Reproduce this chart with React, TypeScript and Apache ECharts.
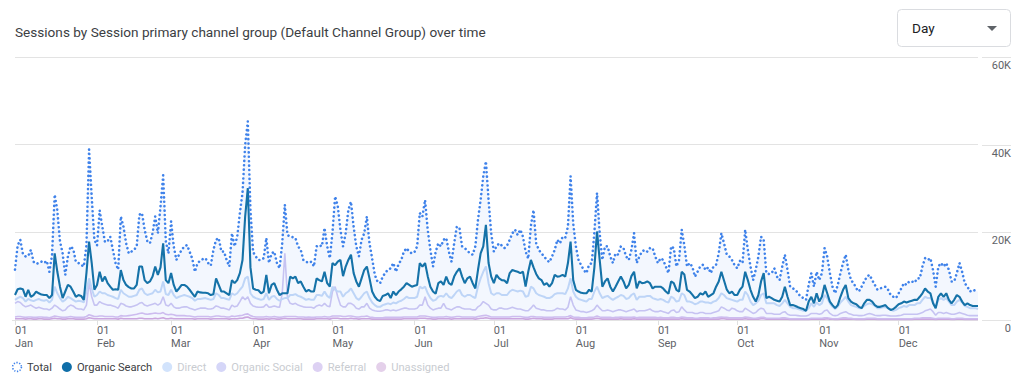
import React, { useEffect, useRef } from "react";
import * as echarts from "echarts";

// ---------- data (sessions, in thousands) ----------
const months = ["Jan", "Feb", "Mar", "Apr", "May", "Jun", "Jul", "Aug", "Sep", "Oct", "Nov", "Dec"];
const monthDays = [31, 28, 31, 30, 31, 30, 31, 31, 30, 31, 30, 31];
const yTicks = [0, 20, 40, 60];
const legendNames = ["Total", "Organic Search", "Direct", "Organic Social", "Referral", "Unassigned"];

const total = [
  // Jan
  11.5, 17.0, 18.3, 15.0, 14.5, 14.6, 16.0, 13.3, 12.8, 13.0,
  13.3, 13.0, 13.5, 11.0, 14.8, 28.6, 25.0, 18.0, 15.2, 10.3,
  14.5, 16.8, 16.2, 13.3, 13.0, 12.6, 12.2, 17.0, 38.9, 28.0,
  18.3,
  // Feb
  17.0, 25.0, 21.3, 17.8, 18.0, 19.0, 16.0, 13.0, 11.5, 23.6,
  21.3, 17.5, 15.2, 15.6, 16.0, 16.8, 24.0, 24.4, 20.6, 18.0,
  17.5, 19.8, 23.6, 19.8, 25.9, 33.0, 18.0, 15.2,
  // Mar
  22.5, 16.8, 13.7, 14.9, 16.0, 16.8, 17.1, 15.6, 14.0, 11.0,
  13.0, 13.5, 13.9, 14.1, 13.0, 12.4, 16.0, 18.3, 18.7, 15.6,
  15.6, 13.7, 12.2, 19.8, 16.8, 19.0, 24.4, 29.0, 40.0, 45.3,
  25.0,
  // Apr
  15.5, 14.5, 13.7, 13.7, 14.1, 18.7, 13.0, 15.2, 15.6, 13.0,
  11.8, 17.5, 26.3, 19.4, 19.0, 18.9, 18.7, 16.8, 16.0, 13.7,
  13.3, 13.0, 13.3, 12.2, 16.8, 17.1, 16.8, 21.0, 16.8, 14.1,
  // May
  20.0, 28.2, 26.0, 20.6, 16.8, 19.8, 25.1, 27.0, 21.3, 16.8,
  14.5, 18.3, 19.8, 23.6, 17.5, 14.0, 10.3, 8.8, 8.4, 9.9,
  10.8, 11.5, 11.8, 13.0, 11.0, 12.8, 13.7, 15.6, 16.4, 15.6,
  15.2,
  // Jun
  15.5, 16.8, 24.4, 23.6, 27.4, 20.6, 16.0, 12.2, 15.5, 17.5,
  16.8, 18.3, 18.7, 15.6, 13.3, 17.5, 21.3, 21.0, 16.8, 16.4,
  15.8, 15.2, 14.9, 16.8, 22.9, 27.4, 32.8, 36.2, 27.4, 19.8,
  // Jul
  15.6, 16.8, 17.5, 17.0, 16.4, 17.0, 18.3, 19.8, 20.6, 19.4,
  20.6, 19.0, 15.6, 14.0, 21.5, 25.1, 17.5, 16.0, 15.2, 14.5,
  13.7, 13.2, 14.5, 16.0, 18.3, 17.5, 19.0, 18.8, 21.3, 32.8,
  22.0,
  // Aug
  16.8, 13.7, 12.5, 11.4, 10.7, 12.6, 13.0, 20.0, 29.0, 19.8,
  13.7, 16.8, 16.8, 14.5, 13.0, 15.2, 14.9, 16.8, 16.4, 14.5,
  13.7, 16.0, 19.8, 13.0, 14.5, 15.6, 16.0, 15.6, 16.4, 16.4,
  14.5,
  // Sep
  13.0, 14.1, 13.7, 12.2, 10.7, 16.8, 16.4, 12.2, 13.7, 20.6,
  17.0, 12.2, 13.0, 12.2, 9.9, 11.0, 12.2, 12.6, 11.4, 12.0,
  10.7, 12.2, 12.6, 15.2, 19.8, 17.5, 15.0, 14.5, 13.7, 12.5,
  // Oct
  11.8, 13.5, 13.0, 20.6, 16.0, 12.2, 9.1, 11.5, 14.5, 19.0,
  18.3, 10.7, 10.5, 10.7, 11.8, 9.9, 9.1, 12.2, 14.9, 11.4,
  7.6, 7.2, 6.9, 6.1, 5.3, 5.0, 4.6, 8.0, 10.7, 7.6,
  11.0,
  // Nov
  9.1, 10.7, 16.4, 14.5, 10.7, 7.6, 6.1, 8.0, 10.7, 13.0,
  14.9, 11.4, 9.1, 8.4, 7.2, 6.5, 7.6, 8.8, 9.9, 10.3,
  9.1, 8.0, 6.9, 7.2, 7.4, 7.6, 6.9, 5.7, 5.3, 5.0,
  // Dec
  6.1, 7.2, 8.4, 8.0, 8.8, 8.8, 8.5, 9.5, 9.5, 12.2,
  14.1, 13.7, 14.1, 11.4, 7.6, 12.2, 13.0, 12.2, 13.0, 11.4,
  8.8, 8.8, 10.7, 13.0, 11.0, 8.4, 7.6, 6.5, 6.9, 6.7,
  6.5,
];

const organicSearch = [
  // Jan
  5.7, 7.0, 7.2, 7.0, 5.3, 6.9, 5.3, 5.7, 6.5, 6.1,
  5.8, 5.7, 5.7, 5.0, 5.7, 15.2, 11.0, 7.6, 5.0, 6.5,
  8.0, 7.6, 6.5, 5.3, 5.7, 5.5, 4.6, 10.7, 17.9, 13.0,
  6.9,
  // Feb
  8.0, 11.0, 8.8, 9.9, 8.4, 7.6, 6.9, 7.0, 6.9, 11.4,
  9.1, 8.0, 7.5, 7.2, 7.2, 8.0, 12.2, 12.2, 9.1, 8.4,
  8.8, 9.9, 12.2, 10.3, 12.0, 17.5, 9.1, 8.4,
  // Mar
  10.7, 8.0, 6.5, 7.2, 8.0, 8.0, 7.6, 6.9, 6.1, 5.3,
  6.5, 6.3, 6.2, 6.2, 6.1, 5.7, 5.9, 9.5, 8.0, 6.5,
  6.5, 6.1, 5.7, 9.1, 8.4, 9.1, 10.7, 13.7, 23.6, 30.1,
  12.0,
  // Apr
  7.2, 6.9, 6.8, 6.1, 6.5, 10.3, 6.1, 8.0, 8.4, 6.9,
  5.7, 6.1, 6.1, 6.1, 9.9, 9.5, 9.9, 8.4, 8.8, 7.6,
  6.5, 6.9, 6.5, 6.5, 9.5, 9.1, 8.8, 11.0, 8.4, 7.6,
  // May
  13.0, 12.5, 13.3, 13.7, 10.0, 12.2, 13.7, 14.9, 10.7, 8.8,
  7.6, 9.5, 11.4, 12.2, 9.5, 6.5, 5.3, 4.6, 4.3, 5.5,
  5.7, 6.1, 5.0, 6.5, 5.7, 6.5, 7.0, 7.6, 8.4, 8.0,
  7.6,
  // Jun
  7.8, 8.0, 13.0, 12.2, 13.0, 10.0, 7.6, 6.5, 6.0, 8.4,
  8.8, 8.0, 9.9, 8.4, 8.0, 9.9, 11.0, 11.8, 9.9, 8.4,
  9.5, 9.9, 8.4, 7.2, 11.4, 15.2, 16.8, 21.7, 13.0, 9.9,
  // Jul
  8.4, 10.3, 9.5, 9.1, 9.0, 8.4, 10.7, 11.4, 11.2, 11.0,
  10.7, 11.0, 7.6, 11.0, 13.7, 12.0, 10.5, 9.5, 9.1, 8.0,
  8.4, 7.6, 8.4, 10.3, 9.9, 10.0, 10.3, 9.9, 13.0, 17.9,
  9.1,
  // Aug
  6.9, 6.5, 6.2, 6.1, 6.1, 6.9, 6.5, 12.0, 20.2, 13.7,
  7.6, 8.8, 9.5, 7.6, 6.5, 7.6, 8.8, 9.9, 8.8, 7.2,
  8.0, 10.0, 11.0, 7.2, 8.8, 8.4, 8.5, 8.8, 8.4, 7.2,
  7.6,
  // Sep
  7.6, 7.6, 7.2, 6.5, 6.0, 8.8, 8.4, 6.9, 6.5, 11.0,
  10.4, 6.9, 6.5, 5.8, 5.0, 5.3, 6.1, 5.8, 6.5, 5.3,
  5.7, 6.1, 7.6, 8.8, 11.0, 9.0, 7.0, 6.1, 6.5, 5.7,
  // Oct
  5.7, 6.9, 7.6, 11.0, 9.1, 6.9, 5.3, 4.2, 5.7, 8.8,
  10.7, 5.0, 5.3, 5.0, 4.6, 4.4, 4.2, 5.3, 7.6, 5.3,
  3.4, 3.4, 3.2, 2.9, 2.7, 2.5, 2.1, 4.2, 5.3, 3.8,
  6.1,
  // Nov
  4.2, 5.3, 8.0, 6.1, 4.2, 3.4, 2.7, 3.4, 5.3, 6.9,
  8.0, 5.0, 4.2, 3.8, 3.6, 3.0, 2.7, 3.8, 4.6, 4.6,
  4.2, 3.4, 3.0, 3.0, 3.2, 3.4, 2.7, 2.3, 2.5, 3.0,
  // Dec
  3.6, 3.8, 4.2, 4.0, 4.2, 4.4, 4.6, 4.6, 5.3, 6.1,
  7.2, 6.5, 6.1, 3.8, 2.7, 5.3, 6.1, 5.3, 6.1, 4.6,
  3.8, 4.6, 5.7, 5.3, 4.2, 3.4, 3.8, 3.4, 3.2, 3.2,
  3.2,
];

const direct = [
  // Jan
  4.6, 5.0, 5.3, 5.0, 4.2, 4.8, 4.5, 4.3, 4.6, 4.8,
  4.5, 4.4, 4.6, 4.0, 4.6, 7.6, 6.1, 5.0, 4.2, 4.6,
  5.3, 5.0, 4.6, 4.2, 4.4, 4.3, 4.0, 6.5, 9.5, 7.2,
  5.3,
  // Feb
  5.7, 6.5, 6.1, 6.1, 5.7, 5.5, 5.3, 5.0, 4.8, 6.9,
  6.1, 5.7, 5.3, 5.3, 5.5, 5.7, 6.9, 7.2, 6.1, 5.7,
  5.9, 6.1, 6.9, 6.3, 6.5, 8.8, 5.9, 5.7,
  // Mar
  6.9, 5.7, 5.0, 5.3, 5.5, 5.7, 5.5, 5.3, 5.0, 4.4,
  4.8, 4.8, 4.9, 5.0, 4.8, 4.6, 4.8, 6.1, 5.7, 5.0,
  5.0, 4.8, 4.6, 6.1, 5.7, 6.1, 6.9, 7.6, 9.5, 9.9,
  6.1,
  // Apr
  5.3, 5.0, 4.8, 4.6, 4.8, 6.1, 4.6, 5.3, 5.5, 4.8,
  4.4, 4.8, 5.0, 5.0, 5.7, 5.7, 5.9, 5.5, 5.3, 5.0,
  4.6, 4.8, 4.6, 4.6, 5.7, 5.7, 5.5, 6.5, 5.5, 5.0,
  // May
  7.6, 6.9, 6.5, 6.5, 5.3, 6.1, 6.5, 7.2, 6.1, 5.0,
  4.6, 5.3, 6.1, 6.5, 5.0, 4.0, 3.4, 3.0, 3.0, 3.4,
  3.6, 3.8, 3.6, 4.0, 3.8, 4.2, 4.4, 4.8, 5.3, 5.0,
  5.0,
  // Jun
  5.0, 5.3, 7.6, 7.2, 7.6, 6.1, 5.0, 4.4, 4.6, 5.3,
  5.5, 5.3, 6.1, 5.3, 5.0, 5.7, 6.5, 6.9, 5.7, 5.3,
  5.7, 5.7, 5.3, 5.0, 7.6, 9.5, 11.0, 12.2, 8.4, 6.1,
  // Jul
  5.7, 6.1, 6.1, 5.7, 5.7, 5.7, 6.5, 6.9, 6.7, 6.5,
  6.7, 6.5, 5.3, 5.5, 7.6, 7.2, 6.1, 5.7, 5.5, 5.3,
  5.0, 5.0, 5.3, 5.9, 6.1, 6.1, 6.1, 5.9, 7.2, 9.5,
  6.5,
  // Aug
  5.3, 4.8, 4.6, 4.4, 4.2, 4.8, 4.8, 6.5, 7.6, 6.1,
  5.0, 5.3, 5.5, 5.0, 4.6, 5.0, 5.3, 5.7, 5.5, 4.8,
  5.0, 5.7, 6.1, 4.6, 5.3, 5.3, 5.3, 5.5, 5.5, 5.0,
  4.8,
  // Sep
  4.6, 4.8, 4.6, 4.2, 4.0, 5.3, 5.0, 4.2, 4.4, 6.1,
  5.7, 4.2, 4.2, 4.0, 3.6, 3.8, 4.2, 4.2, 4.0, 4.0,
  3.8, 4.2, 4.4, 5.0, 6.1, 5.7, 5.0, 4.8, 4.6, 4.4,
  // Oct
  4.2, 4.6, 4.6, 6.5, 5.7, 4.2, 3.4, 3.8, 4.4, 5.7,
  6.1, 3.8, 3.8, 3.8, 3.8, 3.4, 3.2, 3.8, 4.6, 3.8,
  3.0, 2.7, 2.7, 2.5, 2.3, 2.1, 2.1, 2.7, 3.8, 3.0,
  4.0,
  // Nov
  3.4, 3.8, 5.7, 5.0, 3.8, 3.0, 2.5, 3.0, 4.0, 4.6,
  5.3, 4.2, 3.4, 3.2, 3.0, 2.7, 2.7, 3.2, 3.6, 3.8,
  3.6, 3.2, 2.7, 2.7, 2.9, 2.9, 2.7, 2.3, 2.1, 2.3,
  // Dec
  2.7, 2.9, 3.2, 3.0, 3.4, 3.4, 3.4, 3.8, 3.8, 4.6,
  5.3, 5.0, 5.0, 4.2, 2.9, 4.6, 5.0, 4.6, 5.0, 4.2,
  3.4, 3.4, 4.2, 4.6, 4.0, 3.2, 3.0, 2.7, 2.7, 2.7,
  2.5,
];

const organicSocial = [
  // Jan
  3.8, 4.2, 4.0, 3.4, 3.0, 3.2, 3.4, 3.0, 2.7, 2.9,
  2.7, 2.5, 2.5, 2.3, 2.7, 3.4, 3.0, 2.5, 2.1, 2.3,
  3.0, 3.4, 3.2, 2.7, 2.5, 2.5, 2.3, 3.4, 8.4, 5.3,
  3.4,
  // Feb
  3.4, 4.2, 3.8, 3.6, 3.4, 3.4, 3.2, 3.0, 2.7, 3.8,
  3.6, 3.2, 3.0, 3.0, 3.2, 3.4, 3.8, 4.0, 3.4, 3.2,
  3.4, 3.6, 3.8, 3.4, 3.8, 5.3, 3.4, 3.2,
  // Mar
  3.8, 3.0, 2.7, 2.7, 2.9, 3.0, 3.0, 2.7, 2.5, 2.3,
  2.5, 2.7, 2.7, 2.7, 2.5, 2.5, 2.7, 3.2, 3.0, 2.7,
  2.7, 2.5, 2.3, 3.4, 3.0, 3.2, 4.2, 5.3, 4.6, 5.3,
  3.8,
  // Apr
  3.2, 3.0, 2.9, 2.9, 3.0, 3.6, 2.9, 3.0, 3.2, 3.0,
  2.9, 6.0, 15.2, 5.0, 3.8, 3.6, 3.8, 3.4, 3.2, 3.0,
  2.9, 2.9, 2.9, 2.7, 3.2, 3.4, 3.2, 3.8, 3.2, 3.0,
  // May
  6.5, 7.6, 5.3, 3.4, 3.0, 3.0, 3.8, 3.8, 3.4, 2.7,
  2.5, 3.0, 3.0, 3.8, 2.7, 2.3, 2.1, 2.0, 2.0, 2.1,
  2.3, 2.3, 2.1, 2.3, 2.1, 2.3, 2.5, 2.7, 2.7, 2.5,
  2.5,
  // Jun
  2.5, 2.7, 3.4, 3.4, 5.3, 3.4, 2.7, 2.3, 2.5, 2.7,
  2.7, 3.8, 2.7, 2.5, 2.3, 2.7, 3.0, 3.0, 2.7, 2.5,
  2.5, 2.5, 2.3, 2.3, 3.0, 3.4, 4.2, 3.8, 3.4, 2.5,
  // Jul
  2.3, 2.3, 2.7, 2.7, 2.5, 2.5, 2.7, 2.9, 2.7, 2.5,
  2.5, 2.3, 2.1, 2.1, 2.7, 3.4, 2.7, 2.5, 2.3, 2.3,
  2.1, 2.1, 2.1, 2.3, 2.7, 2.5, 2.5, 2.3, 2.9, 5.3,
  3.4,
  // Aug
  2.3, 2.1, 1.9, 1.9, 1.7, 1.9, 2.1, 2.5, 3.4, 2.7,
  2.1, 2.1, 2.3, 2.1, 1.9, 2.1, 2.3, 2.3, 2.1, 1.9,
  2.1, 2.3, 2.5, 1.9, 2.1, 2.1, 2.1, 2.3, 2.5, 2.1,
  1.9,
  // Sep
  1.9, 2.1, 1.9, 1.7, 1.5, 2.1, 2.3, 1.7, 1.9, 3.0,
  2.3, 1.7, 1.7, 1.7, 1.5, 1.5, 1.7, 1.7, 1.5, 1.5,
  1.5, 1.7, 1.9, 2.1, 3.0, 2.7, 2.3, 2.1, 2.7, 2.5,
  // Oct
  2.1, 1.9, 1.9, 2.7, 2.3, 1.9, 1.5, 1.7, 2.3, 2.7,
  2.5, 1.5, 1.5, 1.5, 1.3, 1.3, 1.3, 1.7, 1.9, 1.3,
  1.1, 1.1, 1.1, 1.0, 0.9, 0.9, 0.9, 1.1, 1.5, 1.5,
  1.5,
  // Nov
  1.3, 1.5, 2.1, 2.3, 1.5, 1.1, 1.0, 1.1, 1.5, 1.7,
  1.9, 1.5, 1.3, 1.1, 1.1, 1.0, 1.0, 1.1, 1.3, 1.5,
  1.3, 1.1, 1.0, 1.0, 1.1, 1.1, 1.0, 0.9, 0.9, 0.9,
  // Dec
  1.0, 1.1, 1.3, 1.3, 1.3, 1.3, 1.3, 1.3, 1.5, 1.7,
  2.1, 2.3, 2.5, 1.9, 1.1, 1.7, 1.7, 1.5, 1.7, 1.5,
  1.3, 1.3, 1.5, 1.7, 1.5, 1.3, 1.1, 1.0, 1.0, 1.0,
  1.0,
];

const referral = [
  // Jan
  0.7, 0.8, 0.8, 0.7, 0.6, 0.7, 0.7, 0.6, 0.6, 0.7,
  0.7, 0.6, 0.6, 0.5, 0.7, 0.9, 0.8, 0.7, 0.6, 0.6,
  0.7, 0.8, 0.7, 0.6, 0.6, 0.6, 0.6, 0.8, 1.2, 1.0,
  0.8,
  // Feb
  0.8, 0.9, 0.9, 0.8, 0.8, 0.8, 0.8, 0.7, 0.7, 1.0,
  0.9, 0.9, 1.0, 1.1, 1.2, 1.3, 1.5, 1.6, 1.4, 1.3,
  1.4, 1.5, 1.6, 1.5, 1.5, 1.7, 1.3, 1.2,
  // Mar
  1.3, 1.2, 1.0, 1.0, 1.0, 1.0, 0.9, 0.9, 0.8, 0.7,
  0.8, 0.8, 0.8, 0.8, 0.8, 0.7, 0.8, 0.9, 0.9, 0.8,
  0.8, 0.7, 0.7, 0.9, 0.8, 0.9, 1.0, 1.1, 1.3, 1.4,
  1.0,
  // Apr
  0.8, 0.7, 0.7, 0.7, 0.7, 0.8, 0.7, 0.7, 0.8, 0.7,
  0.6, 0.7, 0.8, 0.8, 0.8, 0.8, 0.8, 0.7, 0.7, 0.7,
  0.6, 0.7, 0.6, 0.6, 0.7, 0.7, 0.7, 0.8, 0.7, 0.7,
  // May
  0.9, 0.9, 0.9, 0.9, 0.8, 0.8, 0.9, 0.9, 0.8, 0.7,
  0.7, 0.8, 0.8, 0.9, 0.7, 0.6, 0.5, 0.5, 0.5, 0.5,
  0.6, 0.6, 0.6, 0.6, 0.6, 0.6, 0.6, 0.7, 0.7, 0.7,
  0.7,
  // Jun
  0.7, 0.7, 0.9, 0.9, 0.9, 0.8, 0.7, 0.6, 0.6, 0.7,
  0.7, 0.7, 0.8, 0.7, 0.6, 0.7, 0.8, 0.8, 0.7, 0.7,
  0.7, 0.7, 0.7, 0.6, 0.8, 0.9, 1.0, 1.1, 0.9, 0.7,
  // Jul
  0.7, 0.7, 0.7, 0.7, 0.7, 0.7, 0.7, 0.8, 0.8, 0.8,
  0.8, 0.7, 0.6, 0.6, 0.8, 0.8, 0.7, 0.7, 0.7, 0.6,
  0.6, 0.6, 0.6, 0.7, 0.7, 0.7, 0.7, 0.7, 0.8, 1.0,
  0.7,
  // Aug
  0.6, 0.6, 0.5, 0.5, 0.5, 0.6, 0.6, 0.7, 0.9, 0.7,
  0.6, 0.6, 0.6, 0.6, 0.5, 0.6, 0.6, 0.7, 0.6, 0.6,
  0.6, 0.6, 0.7, 0.5, 0.6, 0.6, 0.6, 0.6, 0.6, 0.6,
  0.6,
  // Sep
  0.5, 0.6, 0.5, 0.5, 0.5, 0.6, 0.6, 0.5, 0.5, 0.7,
  0.6, 0.5, 0.5, 0.5, 0.4, 0.4, 0.5, 0.5, 0.5, 0.5,
  0.4, 0.5, 0.5, 0.6, 0.7, 0.6, 0.6, 0.5, 0.5, 0.5,
  // Oct
  0.5, 0.5, 0.5, 0.7, 0.6, 0.5, 0.4, 0.4, 0.5, 0.6,
  0.6, 0.4, 0.4, 0.4, 0.4, 0.4, 0.4, 0.5, 0.5, 0.4,
  0.3, 0.3, 0.3, 0.3, 0.3, 0.3, 0.3, 0.3, 0.4, 0.4,
  0.4,
  // Nov
  0.4, 0.4, 0.5, 0.5, 0.4, 0.3, 0.3, 0.3, 0.4, 0.5,
  0.5, 0.4, 0.4, 0.3, 0.3, 0.3, 0.3, 0.3, 0.4, 0.4,
  0.4, 0.4, 0.3, 0.3, 0.3, 0.3, 0.3, 0.3, 0.3, 0.3,
  // Dec
  0.3, 0.3, 0.3, 0.3, 0.3, 0.3, 0.4, 0.4, 0.4, 0.5,
  0.5, 0.5, 0.5, 0.4, 0.3, 0.4, 0.4, 0.4, 0.4, 0.4,
  0.3, 0.3, 0.4, 0.4, 0.4, 0.3, 0.3, 0.3, 0.3, 0.3,
  0.3,
];

const unassigned = [
  // Jan
  0.3, 0.3, 0.3, 0.3, 0.2, 0.3, 0.3, 0.2, 0.2, 0.3,
  0.3, 0.2, 0.2, 0.2, 0.3, 0.4, 0.3, 0.3, 0.2, 0.2,
  0.3, 0.3, 0.3, 0.2, 0.2, 0.2, 0.2, 0.3, 0.5, 0.4,
  0.3,
  // Feb
  0.3, 0.3, 0.3, 0.3, 0.3, 0.3, 0.3, 0.3, 0.2, 0.4,
  0.3, 0.3, 0.3, 0.3, 0.3, 0.3, 0.4, 0.4, 0.3, 0.3,
  0.3, 0.3, 0.4, 0.3, 0.4, 0.5, 0.3, 0.3,
  // Mar
  0.4, 0.3, 0.3, 0.3, 0.3, 0.3, 0.3, 0.3, 0.3, 0.2,
  0.3, 0.3, 0.3, 0.3, 0.3, 0.2, 0.3, 0.3, 0.3, 0.3,
  0.3, 0.3, 0.2, 0.3, 0.3, 0.3, 0.4, 0.4, 0.6, 0.7,
  0.4,
  // Apr
  0.3, 0.3, 0.2, 0.2, 0.2, 0.3, 0.2, 0.3, 0.3, 0.2,
  0.2, 0.3, 0.4, 0.3, 0.3, 0.3, 0.3, 0.3, 0.3, 0.2,
  0.2, 0.2, 0.2, 0.2, 0.3, 0.3, 0.3, 0.3, 0.3, 0.2,
  // May
  0.4, 0.4, 0.4, 0.3, 0.3, 0.3, 0.3, 0.4, 0.3, 0.3,
  0.2, 0.3, 0.3, 0.3, 0.3, 0.2, 0.2, 0.2, 0.2, 0.2,
  0.2, 0.2, 0.2, 0.2, 0.2, 0.2, 0.2, 0.3, 0.3, 0.3,
  0.3,
  // Jun
  0.3, 0.3, 0.4, 0.4, 0.4, 0.3, 0.3, 0.2, 0.2, 0.3,
  0.3, 0.3, 0.3, 0.3, 0.2, 0.3, 0.3, 0.3, 0.3, 0.3,
  0.3, 0.3, 0.3, 0.2, 0.3, 0.4, 0.4, 0.5, 0.4, 0.3,
  // Jul
  0.3, 0.3, 0.3, 0.3, 0.3, 0.3, 0.3, 0.3, 0.3, 0.3,
  0.3, 0.3, 0.2, 0.2, 0.3, 0.4, 0.3, 0.3, 0.3, 0.2,
  0.2, 0.2, 0.2, 0.3, 0.3, 0.3, 0.3, 0.3, 0.3, 0.5,
  0.3,
  // Aug
  0.2, 0.2, 0.2, 0.2, 0.2, 0.2, 0.2, 0.3, 0.4, 0.3,
  0.2, 0.2, 0.2, 0.2, 0.2, 0.2, 0.2, 0.3, 0.2, 0.2,
  0.2, 0.2, 0.3, 0.2, 0.2, 0.2, 0.2, 0.2, 0.2, 0.2,
  0.2,
  // Sep
  0.2, 0.2, 0.2, 0.2, 0.2, 0.2, 0.2, 0.2, 0.2, 0.3,
  0.2, 0.2, 0.2, 0.2, 0.2, 0.2, 0.2, 0.2, 0.2, 0.2,
  0.2, 0.2, 0.2, 0.2, 0.3, 0.3, 0.2, 0.2, 0.2, 0.2,
  // Oct
  0.2, 0.2, 0.2, 0.3, 0.2, 0.2, 0.2, 0.2, 0.2, 0.3,
  0.3, 0.2, 0.2, 0.2, 0.2, 0.2, 0.2, 0.2, 0.2, 0.2,
  0.1, 0.1, 0.1, 0.1, 0.1, 0.1, 0.1, 0.1, 0.2, 0.2,
  0.2,
  // Nov
  0.2, 0.2, 0.2, 0.3, 0.2, 0.2, 0.1, 0.1, 0.2, 0.2,
  0.2, 0.2, 0.2, 0.2, 0.1, 0.1, 0.1, 0.1, 0.2, 0.2,
  0.2, 0.2, 0.1, 0.1, 0.1, 0.1, 0.1, 0.1, 0.1, 0.1,
  // Dec
  0.1, 0.1, 0.1, 0.1, 0.1, 0.1, 0.2, 0.2, 0.2, 0.2,
  0.2, 0.2, 0.2, 0.2, 0.1, 0.2, 0.2, 0.2, 0.2, 0.2,
  0.1, 0.1, 0.2, 0.2, 0.2, 0.1, 0.1, 0.1, 0.1, 0.1,
  0.1,
];

// day categories "01 Jan" ... "31 Dec"
const categories: string[] = months.flatMap((m, i) =>
  Array.from({ length: monthDays[i] }, (_, k) => `${String(k + 1).padStart(2, "0")} ${m}`)
);

const FONT = "Roboto, 'Noto Sans', sans-serif";
const C_TOTAL = "#3f82ea";
const C_ORGANIC = "#1572a8";
const C_DIRECT = "#bed5f7";
const C_SOCIAL = "#c6c3f2";
const C_REFERRAL = "#cdbcef";
const C_UNASSIGNED = "#cba6de";
const FADED_TEXT = "#c9ccd1";

// legend swatch colours / text colours, in legendNames order
const legendSwatch = ["#ffffff", "#0f6ea8", "#d2e3fc", "#d5d6f8", "#ddd1f3", "#e4d0ea"];
const legendText = ["#3c4043", "#3c4043", FADED_TEXT, FADED_TEXT, FADED_TEXT, FADED_TEXT];

export default function App() {
  const ref = useRef<HTMLDivElement>(null);

  useEffect(() => {
    const lens = [total, organicSearch, direct, organicSocial, referral, unassigned].map((a) => a.length);
    if (lens.some((l) => l !== categories.length)) {
      throw new Error("length mismatch: " + lens.join(",") + " vs " + categories.length);
    }
    const chart = echarts.init(ref.current!, undefined, { renderer: "svg" });

    const faded = (name: string, data: number[], color: string, width: number) => ({
      name,
      type: "line",
      data,
      showSymbol: false,
      symbol: "none",
      z: 2,
      lineStyle: { color, width },
      itemStyle: { color },
    });

    chart.setOption({
      animation: false,
      textStyle: { fontFamily: FONT },
      title: {
        text: "Sessions by Session primary channel group (Default Channel Group) over time",
        left: 10,
        top: 20,
        textStyle: { fontSize: 13.6, fontWeight: "normal", color: "#3c4043", fontFamily: FONT },
      },
      grid: { left: 15, right: 46, top: 57, bottom: 64, containLabel: false },
      xAxis: {
        type: "category",
        data: categories,
        boundaryGap: false,
        axisLine: { show: false },
        axisTick: {
          show: true,
          length: 5,
          interval: (i: number, v: string) => v.startsWith("01 "),
          lineStyle: { color: "#e0e0e0" },
        },
        axisLabel: {
          interval: (i: number, v: string) => v.startsWith("01 "),
          formatter: (v: string) => v.replace(" ", "\n"),
          align: "left",
          fontSize: 11,
          lineHeight: 13,
          margin: 4,
          color: "#5f6368",
          fontFamily: FONT,
        },
        splitLine: { show: false },
      },
      yAxis: {
        type: "value",
        position: "right",
        min: 0,
        max: 60,
        interval: 20,
        axisLine: { show: false },
        axisTick: { show: false },
        splitLine: { lineStyle: { color: "#e3e3e3", width: 1 } },
        axisLabel: {
          formatter: (v: number) => (v === 0 ? "0" : `${v}K`),
          align: "right",
          verticalAlign: "top",
          margin: 33,
          padding: [3, 0, 0, 0],
          fontSize: 11,
          color: "#5f6368",
          fontFamily: FONT,
        },
      },
      series: [
        {
          name: "_totalArea",
          type: "line",
          data: total,
          showSymbol: false,
          symbol: "none",
          z: 1,
          lineStyle: { width: 0, opacity: 0 },
          areaStyle: { color: "rgba(66,133,244,0.09)" },
          silent: true,
        },
        faded("Unassigned", unassigned, C_UNASSIGNED, 1.6),
        faded("Referral", referral, C_REFERRAL, 1.6),
        faded("Organic Social", organicSocial, C_SOCIAL, 1.6),
        faded("Direct", direct, C_DIRECT, 2),
        {
          name: "Organic Search",
          type: "line",
          data: organicSearch,
          showSymbol: false,
          symbol: "none",
          z: 3,
          lineStyle: { color: C_ORGANIC, width: 2.1 },
          itemStyle: { color: C_ORGANIC },
        },
        {
          name: "Total",
          type: "line",
          data: total,
          showSymbol: false,
          symbol: "none",
          z: 4,
          lineStyle: { color: C_TOTAL, width: 2.6, type: [0.01, 4.4], cap: "round" },
          itemStyle: { color: C_TOTAL },
        },
      ],
    });

    // short gridline segments above the right-hand labels
    const segs = yTicks.map((v) => {
      const y = Math.round(chart.convertToPixel({ yAxisIndex: 0 }, v) as number) + 0.5;
      return {
        type: "line",
        silent: true,
        shape: { x1: 982, y1: y, x2: 1011, y2: y },
        style: { stroke: "#e3e3e3", lineWidth: 1 },
      };
    });
    const y0 = Math.round(chart.convertToPixel({ yAxisIndex: 0 }, 0) as number) + 0.5;

    // custom legend laid out from measured text widths
    const LEG_FS = 11.15;
    const legendEls: any[] = [];
    let lx = 12;
    const ly = 367;
    legendNames.forEach((name, i) => {
      const fmt: any = (echarts as any).format;
      const rect = fmt && fmt.getTextRect ? fmt.getTextRect(name, `${LEG_FS}px ${FONT}`) : null;
      const textW = rect && typeof rect.width === "number" ? rect.width : name.length * 5.6;
      legendEls.push({
        type: "circle",
        silent: true,
        shape: { cx: lx + 5, cy: ly, r: i === 0 ? 4.4 : 5 },
        style:
          i === 0
            ? { fill: "#ffffff", stroke: C_TOTAL, lineWidth: 1.6, lineDash: [1.3, 1.5] }
            : { fill: legendSwatch[i] },
      });
      legendEls.push({
        type: "text",
        silent: true,
        x: lx + 15,
        y: ly,
        style: {
          text: name,
          fontSize: LEG_FS,
          fontFamily: FONT,
          fill: legendText[i],
          verticalAlign: "middle",
          align: "left",
        },
      });
      lx += 15 + textW + 10;
    });

    chart.setOption({
      graphic: [
        ...segs,
        {
          type: "line",
          silent: true,
          shape: { x1: 12, y1: y0, x2: 16, y2: y0 },
          style: { stroke: "#e3e3e3", lineWidth: 1 },
        },
        ...legendEls,
        {
          type: "rect",
          shape: { x: 897.5, y: 9.5, width: 113, height: 37, r: 4 },
          style: { fill: "#ffffff", stroke: "#dadce0", lineWidth: 1 },
        },
        {
          type: "text",
          x: 912,
          y: 28,
          style: {
            text: "Day",
            fontSize: 13.6,
            fontFamily: FONT,
            fill: "#202124",
            verticalAlign: "middle",
            align: "left",
          },
        },
        {
          type: "polygon",
          shape: { points: [[987, 26], [997, 26], [992, 31]] },
          style: { fill: "#5f6368" },
        },
      ],
    });

    return () => chart.dispose();
  }, []);

  return <div ref={ref} style={{ width: 1024, height: 384, margin: -8 }} />;
}
